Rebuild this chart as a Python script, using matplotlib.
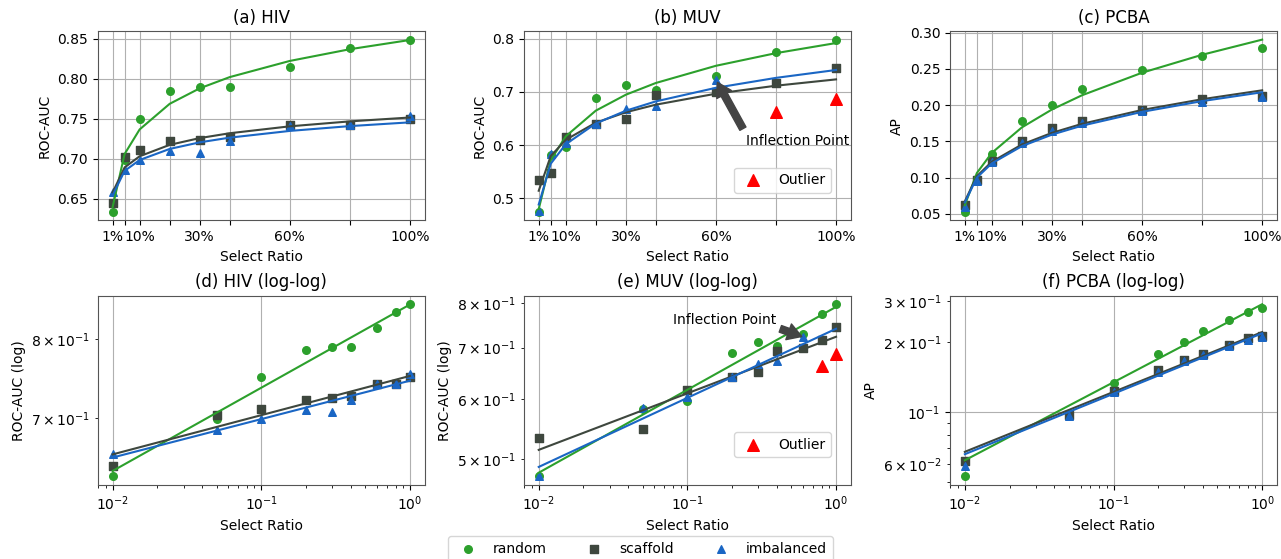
import numpy as np
import matplotlib
matplotlib.use("Agg")
import matplotlib.pyplot as plt

plt.rcParams['axes.edgecolor'] = '#555555'

ratios = [0.01, 0.05, 0.1, 0.2, 0.3, 0.4, 0.6, 0.8, 1.0]
tick_labels = ['1%', '', '10%', '', '30%', '', '60%', '', '100%']

hiv_random = [0.634, 0.699, 0.750, 0.785, 0.790, 0.790, 0.815, 0.838, 0.849]
hiv_scaffold = [0.645, 0.703, 0.711, 0.722, 0.724, 0.727, 0.742, 0.742, 0.750]
hiv_imbalanced = [0.659, 0.686, 0.699, 0.710, 0.707, 0.722, 0.741, 0.742, 0.754]

muv_random = [0.475, 0.582, 0.596, 0.689, 0.712, 0.703, 0.729, 0.774, 0.798]
muv_scaffold = [0.534, 0.548, 0.616, 0.640, 0.650, 0.694, 0.699, 0.716, 0.745]
muv_imbalanced = [0.476, 0.583, 0.604, 0.640, 0.667, 0.673, 0.723, 0.662, 0.687]
muv_outlier_idx = [7, 8]
# how many leading points each MUV curve is fitted on (before the inflection)
muv_fit_n = {'random': 9, 'scaffold': 7, 'imbalanced': 6}

pcba_random = [0.053, 0.098, 0.133, 0.178, 0.200, 0.222, 0.249, 0.268, 0.279]
pcba_scaffold = [0.062, 0.097, 0.123, 0.151, 0.168, 0.178, 0.194, 0.208, 0.213]
pcba_imbalanced = [0.059, 0.096, 0.122, 0.148, 0.165, 0.176, 0.192, 0.204, 0.211]

splits = ['random', 'scaffold', 'imbalanced']
colors = {'random': '#2ca02c', 'scaffold': '#3e473e', 'imbalanced': '#1a66c4'}
markers = {'random': 'o', 'scaffold': 's', 'imbalanced': '^'}

datasets = [
    ('HIV', 'ROC-AUC', {'random': hiv_random, 'scaffold': hiv_scaffold, 'imbalanced': hiv_imbalanced}, [], {}),
    ('MUV', 'ROC-AUC', {'random': muv_random, 'scaffold': muv_scaffold, 'imbalanced': muv_imbalanced},
     muv_outlier_idx, muv_fit_n),
    ('PCBA', 'AP', {'random': pcba_random, 'scaffold': pcba_scaffold, 'imbalanced': pcba_imbalanced}, [], {}),
]


def power_fit(x, y):
    # least squares of y = a * x**b in linear space (scan b, a is closed form)
    best = None
    for b in np.linspace(0.0, 0.6, 6001):
        xb = x ** b
        a = np.sum(y * xb) / np.sum(xb * xb)
        err = np.sum((y - a * xb) ** 2)
        if best is None or err < best[0]:
            best = (err, a, b)
    _, a, b = best
    return a * np.asarray(ratios) ** b


fig, axes = plt.subplots(2, 3, figsize=(12.81, 5.59), dpi=100)
fig.subplots_adjust(left=0.0763, right=0.9969, top=0.9445, bottom=0.1324,
                    wspace=0.303, hspace=0.397)

letters = 'abcdef'
x = np.array(ratios)
for col, (name, metric, vals, outliers, fit_n) in enumerate(datasets):
    for row in range(2):
        ax = axes[row, col]
        for s in splits:
            y = np.array(vals[s])
            keep = np.ones(len(y), bool)
            if s == 'imbalanced' and outliers:
                keep[outliers] = False
            n = fit_n.get(s, len(y))
            ax.scatter(x[keep], y[keep], s=30, c=colors[s], marker=markers[s], label=s, zorder=2)
            ax.plot(x, power_fit(x[:n], y[:n]), c=colors[s], lw=1.5, zorder=3)
        if outliers:
            y = np.array(vals['imbalanced'])
            ax.scatter(x[outliers], y[outliers], s=70, c='red', marker='^', label='Outlier', zorder=4)
            h = ax.collections[-1]
            ax.legend([h], ['Outlier'], loc='lower right', bbox_to_anchor=(0.96, 0.11))
        ax.set_xlabel('Select Ratio')
        if row == 0:
            ax.set_title(f'({letters[col]}) {name}')
            ax.set_ylabel(metric)
            ax.set_xticks(ratios)
            ax.set_xticklabels(tick_labels)
            ax.grid(True)
        else:
            ax.set_xscale('log')
            ax.set_yscale('log')
            ax.set_title(f'({letters[col + 3]}) {name} (log-log)')
            ax.set_ylabel(metric if metric == 'AP' else metric + ' (log)')
            ax.grid(True)

arrow = dict(facecolor='#444444', edgecolor='#444444', shrink=0.05, width=5, headwidth=12, headlength=10)
axes[0, 1].annotate('Inflection Point', xy=(0.6, 0.723), xytext=(0.7, 0.6), arrowprops=arrow)
axes[1, 1].annotate('Inflection Point', xy=(0.6, 0.723), xytext=(0.08, 0.751), arrowprops=arrow)

handles, labels = axes[0, 0].get_legend_handles_labels()
fig.legend(handles, labels, loc='upper center', ncol=3, bbox_to_anchor=(0.5, 0.053),
           columnspacing=2.4)

fig.savefig('out.png', dpi=100)
